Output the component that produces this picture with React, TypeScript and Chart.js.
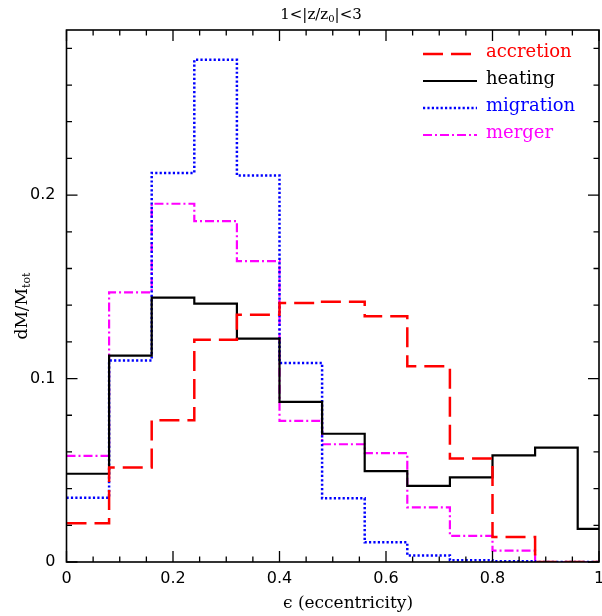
import React, { useEffect, useRef } from "react";
import { Chart, registerables } from "chart.js";
Chart.register(...registerables);

// Histogram bins (left edges), bin width 0.08, last bin ends at 1
const binEdges = [0, 0.08, 0.16, 0.24, 0.32, 0.4, 0.48, 0.56, 0.64, 0.72, 0.8, 0.88, 0.96];
const xEnd = 1;
const accretion = [0.0211, 0.0515, 0.0773, 0.1212, 0.1348, 0.1412, 0.1419, 0.1339, 0.1067, 0.0564, 0.0136, 0, 0];
const heating = [0.0481, 0.1125, 0.1441, 0.1408, 0.1218, 0.0873, 0.0699, 0.0495, 0.0415, 0.0461, 0.0581, 0.0624, 0.0181];
const migration = [0.035, 0.1098, 0.2121, 0.2738, 0.2107, 0.1085, 0.0347, 0.0107, 0.0036, 0.001, 0.0004, 0, 0];
const merger = [0.0579, 0.147, 0.1953, 0.1858, 0.164, 0.0769, 0.0642, 0.0593, 0.0298, 0.0142, 0.0062, 0, 0];

const xTickValues = [0, 0.2, 0.4, 0.6, 0.8, 1];
const yTickValues = [0, 0.1, 0.2];
const xMinorStep = 0.05;
const yMinorStep = 0.02;
const xMax = 1;
const yMax = 0.29;

const SERIF = "'DejaVu Serif', 'Liberation Serif', serif";
const SANS = "'DejaVu Sans', 'Liberation Sans', sans-serif";

function toSteps(vals: number[]) {
  const pts = binEdges.map((x, i) => ({ x, y: vals[i] }));
  pts.push({ x: xEnd, y: vals[vals.length - 1] });
  return pts;
}

const framePlugin = {
  id: "frame",
  afterDatasetsDraw(chart: any) {
    const { ctx, chartArea: a, scales } = chart;
    const xs = scales.x;
    const ys = scales.y;
    ctx.save();
    ctx.strokeStyle = "#000";
    ctx.lineWidth = 1.6;
    ctx.strokeRect(a.left, a.top, a.right - a.left, a.bottom - a.top);
    ctx.lineWidth = 1.3;
    const major = 11;
    const minor = 5.5;
    ctx.beginPath();
    const nx = Math.round(xMax / xMinorStep);
    for (let i = 0; i <= nx; i++) {
      const v = i * xMinorStep;
      const px = xs.getPixelForValue(v);
      if (px > a.right + 0.5) continue;
      const len = i % 4 === 0 ? major : minor;
      ctx.moveTo(px, a.bottom);
      ctx.lineTo(px, a.bottom - len);
      ctx.moveTo(px, a.top);
      ctx.lineTo(px, a.top + len);
    }
    const ny = Math.floor(yMax / yMinorStep + 1e-6);
    for (let i = 0; i <= ny; i++) {
      const v = i * yMinorStep;
      const py = ys.getPixelForValue(v);
      const len = i % 5 === 0 ? major : minor;
      ctx.moveTo(a.left, py);
      ctx.lineTo(a.left + len, py);
      ctx.moveTo(a.right, py);
      ctx.lineTo(a.right - len, py);
    }
    ctx.stroke();

    // legend
    const lx0 = 423, lx1 = 477, tx = 486;
    let ly = 54;
    chart.data.datasets.forEach((ds: any) => {
      ctx.save();
      ctx.strokeStyle = ds.borderColor;
      ctx.lineWidth = ds.borderWidth;
      ctx.setLineDash(ds.borderDash || []);
      ctx.beginPath();
      ctx.moveTo(lx0, ly);
      ctx.lineTo(lx1, ly);
      ctx.stroke();
      ctx.restore();
      ctx.fillStyle = ds.borderColor;
      ctx.font = `18px ${SERIF}`;
      ctx.textAlign = "left";
      ctx.textBaseline = "alphabetic";
      ctx.fillText(ds.label, tx, ly + 2.5);
      ly += 27;
    });

    // title
    ctx.fillStyle = "#000";
    ctx.textBaseline = "alphabetic";
    ctx.textAlign = "left";
    const tf = `15px ${SERIF}`;
    const sf = `10px ${SERIF}`;
    ctx.font = tf;
    const t1 = "1<|z/z", t2 = "|<3", ts = "0";
    const w1 = ctx.measureText(t1).width;
    const w2 = ctx.measureText(t2).width;
    ctx.font = sf;
    const ws = ctx.measureText(ts).width;
    let tx0 = 321 - (w1 + ws + w2) / 2;
    ctx.font = tf;
    ctx.fillText(t1, tx0, 19);
    ctx.font = sf;
    ctx.fillText(ts, tx0 + w1, 22);
    ctx.font = tf;
    ctx.fillText(t2, tx0 + w1 + ws, 19);

    // x label
    ctx.font = `17px ${SERIF}`;
    ctx.textAlign = "center";
    ctx.fillText("\u03f5 (eccentricity)", 348, 608);

    // y label
    ctx.save();
    ctx.translate(27, 306);
    ctx.rotate(-Math.PI / 2);
    const yf = `17px ${SERIF}`;
    const ysf = `11px ${SERIF}`;
    ctx.font = yf;
    const yl = "dM/M";
    const wy = ctx.measureText(yl).width;
    ctx.font = ysf;
    const wys = ctx.measureText("tot").width;
    const y0 = -(wy + wys) / 2;
    ctx.textAlign = "left";
    ctx.font = yf;
    ctx.fillText(yl, y0, 0);
    ctx.font = ysf;
    ctx.fillText("tot", y0 + wy, 3);
    ctx.restore();

    ctx.restore();
  },
};

export default function App() {
  const ref = useRef<HTMLCanvasElement | null>(null);
  useEffect(() => {
    if (!ref.current) return;
    const chart = new Chart(ref.current, {
      type: "line",
      data: {
        datasets: [
          { label: "accretion", data: toSteps(accretion), borderColor: "#ff0000", borderWidth: 2.5, borderDash: [20, 8], stepped: "before", pointRadius: 0, fill: false },
          { label: "heating", data: toSteps(heating), borderColor: "#000000", borderWidth: 2.2, borderDash: [], stepped: "before", pointRadius: 0, fill: false },
          { label: "migration", data: toSteps(migration), borderColor: "#0000ff", borderWidth: 2.5, borderDash: [2.2, 2.2], stepped: "before", pointRadius: 0, fill: false },
          { label: "merger", data: toSteps(merger), borderColor: "#ff00ff", borderWidth: 2.2, borderDash: [9, 3, 2, 3], stepped: "before", pointRadius: 0, fill: false },
        ] as any,
      },
      options: {
        responsive: false,
        animation: false,
        layout: { padding: { top: 30, right: 3, left: 0, bottom: 0 } },
        plugins: { legend: { display: false }, tooltip: { enabled: false } },
        scales: {
          x: {
            type: "linear",
            min: 0,
            max: xMax,
            grid: { display: false, drawTicks: false },
            border: { display: false },
            ticks: { color: "#000", font: { family: SANS, size: 16 }, padding: 7, maxRotation: 0, callback: (v: any) => `${+(+v).toFixed(2)}` },
            afterBuildTicks: (s: any) => { s.ticks = xTickValues.map((v) => ({ value: v })); },
            afterFit: (s: any) => { s.height = 54; s.paddingLeft = 0; s.paddingRight = 0; },
          },
          y: {
            type: "linear",
            min: 0,
            max: yMax,
            grid: { display: false, drawTicks: false },
            border: { display: false },
            ticks: { color: "#000", font: { family: SANS, size: 16 }, padding: 11, callback: (v: any) => `${+(+v).toFixed(2)}` },
            afterBuildTicks: (s: any) => { s.ticks = yTickValues.map((v) => ({ value: v })); },
            afterFit: (s: any) => { s.width = 66.5; s.paddingTop = 0; s.paddingBottom = 0; },
          },
        },
      } as any,
      plugins: [framePlugin],
    });
    return () => chart.destroy();
  }, []);
  return (
    <div style={{ position: "absolute", left: 0, top: 0, width: 602, height: 616, background: "#fff" }}>
      <canvas ref={ref} width={602} height={616} style={{ display: "block", width: 602, height: 616 }} />
    </div>
  );
}
